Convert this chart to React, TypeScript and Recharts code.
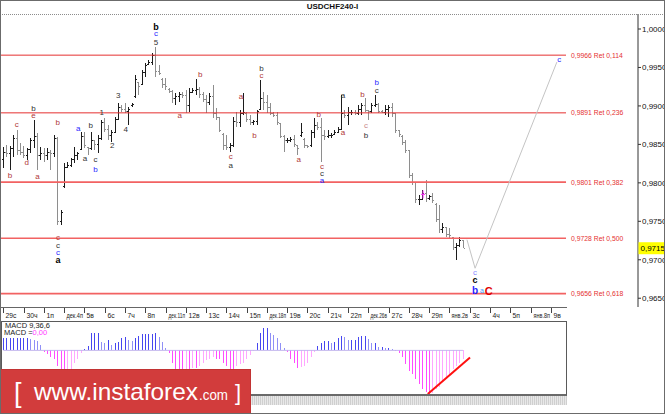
import { ComposedChart, Bar, Cell, XAxis, YAxis, ReferenceLine, ReferenceDot } from 'recharts'

const FONT = '"Liberation Sans", Arial, sans-serif'

// 4h bars, oldest first (6 bars per trading day)
const barHigh = [
  0.9847, 0.9849, 0.9848, 0.9862, 0.9869, 0.9852, 0.9848, 0.9845, 0.9858, 0.9882,
  0.9865, 0.9847, 0.9845, 0.9845, 0.9843, 0.9862, 0.986, 0.9765, 0.9826, 0.9827,
  0.9832, 0.9847, 0.984, 0.9866, 0.9866, 0.9847, 0.9866, 0.9856, 0.9862, 0.9882,
  0.9884, 0.9875, 0.9869, 0.9886, 0.9904, 0.9901, 0.9904, 0.9899, 0.9904, 0.994,
  0.9931, 0.9947, 0.9956, 0.996, 0.9969, 0.9977, 0.9953, 0.9936, 0.9936, 0.9923,
  0.9921, 0.9917, 0.9918, 0.9918, 0.9921, 0.9923, 0.9923, 0.9935, 0.9925, 0.9918,
  0.9914, 0.9917, 0.9927, 0.9897, 0.9886, 0.9865, 0.9862, 0.9852, 0.9886, 0.9892,
  0.9895, 0.9917, 0.9892, 0.9888, 0.9882, 0.9895, 0.9934, 0.9918, 0.9914, 0.9904,
  0.9892, 0.9892, 0.9878, 0.9862, 0.9858, 0.986, 0.9862, 0.9849, 0.9878, 0.9858,
  0.9849, 0.9869, 0.9884, 0.9879, 0.9884, 0.9869, 0.9869, 0.9865, 0.9869, 0.9873,
  0.9914, 0.9895, 0.9899, 0.9895, 0.9895, 0.9901, 0.9904, 0.991, 0.9895, 0.9904,
  0.9914, 0.9904, 0.9895, 0.9901, 0.9901, 0.9904, 0.9891, 0.9869, 0.9862, 0.9856,
  0.9843, 0.9813, 0.98, 0.9784, 0.9791, 0.9804, 0.9784, 0.9787, 0.9774, 0.9771,
  0.9748, 0.9743, 0.9741, 0.973, 0.9722, 0.973, 0.9726,
]
const barLow = [
  0.9819, 0.9834, 0.9817, 0.9834, 0.9836, 0.9836, 0.9832, 0.983, 0.9839, 0.9845,
  0.9817, 0.983, 0.9827, 0.983, 0.9817, 0.9834, 0.9745, 0.9745, 0.9793, 0.9819,
  0.9821, 0.9826, 0.983, 0.9843, 0.9845, 0.9836, 0.9843, 0.9843, 0.9839, 0.9856,
  0.9866, 0.9856, 0.9853, 0.9865, 0.9882, 0.9892, 0.9891, 0.9875, 0.9899, 0.991,
  0.9914, 0.9927, 0.9938, 0.9953, 0.9953, 0.9938, 0.994, 0.9923, 0.9921, 0.9917,
  0.9904, 0.9901, 0.9905, 0.991, 0.9891, 0.9892, 0.9917, 0.9914, 0.991, 0.9905,
  0.9891, 0.9901, 0.9884, 0.9882, 0.9866, 0.9843, 0.9843, 0.984, 0.9847, 0.9873,
  0.9873, 0.9888, 0.9879, 0.9875, 0.9875, 0.9875, 0.9895, 0.9895, 0.9891, 0.9888,
  0.9886, 0.9875, 0.9858, 0.984, 0.9852, 0.9853, 0.9847, 0.9836, 0.986, 0.9845,
  0.9845, 0.9847, 0.9858, 0.9869, 0.9827, 0.9856, 0.9858, 0.9858, 0.9862, 0.9865,
  0.9869, 0.9884, 0.9875, 0.9888, 0.9888, 0.9888, 0.9888, 0.9892, 0.9882, 0.9891,
  0.9899, 0.9891, 0.9891, 0.9888, 0.9886, 0.9886, 0.9865, 0.986, 0.9849, 0.9839,
  0.9806, 0.9797, 0.9774, 0.9771, 0.9778, 0.9775, 0.9778, 0.9774, 0.9749, 0.9735,
  0.9735, 0.973, 0.9728, 0.9713, 0.97, 0.9717, 0.9715,
]
const barOpen = [
  0.983, 0.984, 0.9838, 0.9845, 0.9858, 0.9842, 0.984, 0.9836, 0.9843, 0.9855,
  0.986, 0.9835, 0.9838, 0.9835, 0.984, 0.9838, 0.9858, 0.975, 0.9795, 0.982,
  0.9823, 0.983, 0.9835, 0.9844, 0.986, 0.9846, 0.9845, 0.9855, 0.985, 0.9858,
  0.9878, 0.987, 0.9862, 0.9866, 0.9882, 0.9898, 0.9895, 0.9893, 0.99, 0.9912,
  0.993, 0.9928, 0.9943, 0.9954, 0.9957, 0.9965, 0.9945, 0.9935, 0.9928, 0.9922,
  0.9919, 0.991, 0.9912, 0.9915, 0.9914, 0.99, 0.9918, 0.992, 0.9922, 0.9915,
  0.9908, 0.9905, 0.9912, 0.989, 0.9885, 0.9863, 0.9848, 0.9846, 0.9849, 0.988,
  0.9878, 0.989, 0.989, 0.9882, 0.9878, 0.988, 0.9896, 0.991, 0.9905, 0.9898,
  0.989, 0.9888, 0.9877, 0.986, 0.9855, 0.9855, 0.9856, 0.9848, 0.9862, 0.9856,
  0.9848, 0.9848, 0.9865, 0.9875, 0.9872, 0.9862, 0.986, 0.9862, 0.9863, 0.9866,
  0.987, 0.989, 0.9888, 0.9892, 0.9892, 0.989, 0.9896, 0.99, 0.9894, 0.9893,
  0.99, 0.9902, 0.9893, 0.9892, 0.9895, 0.9898, 0.989, 0.9868, 0.986, 0.9852,
  0.9842, 0.981, 0.98, 0.9778, 0.9779, 0.9786, 0.978, 0.9782, 0.9772, 0.9752,
  0.974, 0.9742, 0.9733, 0.9729, 0.9716, 0.9718, 0.9725,
]
const barClose = [
  0.984, 0.9838, 0.9845, 0.9858, 0.9842, 0.984, 0.9836, 0.9843, 0.9855, 0.986,
  0.9835, 0.9838, 0.9835, 0.984, 0.9838, 0.9858, 0.975, 0.9762, 0.982, 0.9823,
  0.983, 0.9835, 0.9838, 0.986, 0.9848, 0.9845, 0.9855, 0.985, 0.9858, 0.9878,
  0.987, 0.9862, 0.9866, 0.9882, 0.9898, 0.9895, 0.9893, 0.9895, 0.9902, 0.9935,
  0.9925, 0.9943, 0.9952, 0.9957, 0.9965, 0.9945, 0.9942, 0.9928, 0.9925, 0.9919,
  0.991, 0.9912, 0.9915, 0.9914, 0.99, 0.9918, 0.992, 0.9922, 0.9915, 0.9908,
  0.9905, 0.9912, 0.989, 0.9885, 0.9868, 0.9848, 0.9846, 0.9849, 0.988, 0.9878,
  0.989, 0.9892, 0.9882, 0.9878, 0.988, 0.9893, 0.991, 0.9905, 0.9898, 0.989,
  0.9888, 0.9878, 0.986, 0.9855, 0.9855, 0.9856, 0.985, 0.9845, 0.9865, 0.9848,
  0.9847, 0.9865, 0.9875, 0.9872, 0.9862, 0.986, 0.9862, 0.9862, 0.9866, 0.987,
  0.989, 0.9888, 0.9892, 0.9892, 0.989, 0.9896, 0.99, 0.9894, 0.9893, 0.99,
  0.9902, 0.9893, 0.9892, 0.9895, 0.9898, 0.989, 0.9868, 0.9863, 0.9852, 0.9842,
  0.981, 0.98, 0.9778, 0.9778, 0.9786, 0.978, 0.9782, 0.9777, 0.9752, 0.974,
  0.9742, 0.9733, 0.9731, 0.9716, 0.9718, 0.9725, 0.9715,
]
const macdHist = [
  12, 12, 12, 12, 12, 12, 12, 12, 11, 10,
  9, 5, -2, -4, -7, -8, -15, -22, -23, -22,
  -18, -12, -8, -3, 1, 4, 17, 17, 17, 8,
  7, 10, 5, 7, 8, 12, 13, 10, 9, 12,
  14, 16, 16, 16, 16, 17, 13, 8, 2, -3,
  -12, -20, -22, -22, -20, -20, -17, -17, -15, -12,
  -9, -8, -7, -8, -8, -12, -15, -18, -18, -15,
  -13, -12, -8, -5, -1, 7, 17, 22, 22, 17,
  15, 12, 7, 2, -2, -8, -12, -17, -16, -15,
  -12, -7, -2, 4, 7, 9, 9, 7, 8, 12,
  14, 13, 10, 10, 10, 13, 14, 14, 11, 7,
  7, 3, 3, 2, 2, 1, -1, -3, -7, -13,
  -20, -23, -28, -33, -38, -41, -43, -42, -38, -36,
  -31, -28, -23, -18, -15, -12, -8,
]

const BARS_PER_DAY = 6
const dateLabels = [
  '29с', '30ч', '1п', 'дек.4п', '5в', '6с', '7ч', '8п', 'дек.11п', '12в', '13с', '14ч', '15п', 'дек.18п',
  '19в', '20с', '21ч', '22п', 'дек.26в', '27с', '28ч', '29п', 'янв.2в', '3с', '4ч', '5п', 'янв.8п', '9в',
]
const priceTicks = [0.965, 0.97, 0.975, 0.98, 0.985, 0.99, 0.995, 1.0]
const lastPrice = 0.9715

const fibLevels = [0.9966, 0.9891, 0.9801, 0.9728, 0.9656]
const fibRatios = ['0,114', '0,236', '0,382', '0,500', '0,618']

// forecast path (bar index, price)
const projAt = [137.2, 139.6, 163.8]
const projPrice = [0.9726, 0.9689, 0.9957]

// trend line drawn on the MACD window
const macdTrendAt = [125.6, 138.1]
const macdTrendVal = [-43, -7]

// wave marks: bar index, price, text, degree
const waveAt = [
  45.2, 45.2, 45.2, 8.9, 8.9, 4.0, 16.1, 22.2, 25.9, 29.1, 34.0, 32.2, 36.2, 24.2, 27.3, 27.3, 2.0, 6.9, 10.1,
  16.2, 16.2, 16.2, 16.2, 52.2, 58.3, 67.3, 67.3, 70.3, 74.3, 76.4, 76.4, 87.4, 93.3, 94.3, 94.3, 94.3,
  100.5, 100.5, 106.3, 107.3, 107.3, 110.5, 110.5, 139.6, 139.6, 139.6, 141.6, 143.6, 164.5,
]
const wavePrice = [
  1.0003, 0.9994, 0.9983, 0.9897, 0.9887, 0.9876, 0.9878, 0.9871, 0.9874, 0.9892, 0.9914, 0.9849, 0.987,
  0.9832, 0.983, 0.9817, 0.981, 0.9826, 0.9808, 0.9729, 0.9719, 0.9709, 0.97, 0.9887, 0.9941, 0.9834, 0.9823,
  0.9912, 0.9861, 0.9949, 0.9939, 0.983, 0.9889, 0.9821, 0.9812, 0.9803, 0.9913, 0.9866, 0.9915, 0.9874,
  0.9861, 0.993, 0.992, 0.9683, 0.9674, 0.966, 0.966, 0.966, 0.996,
]
const waveText = [
  'b', 'c', '5', 'b', 'e', 'c', 'b', 'a', 'b', '1', '3', '2', '4', 'a', 'c', 'b', 'b', 'd', 'a',
  'c', 'c', 'c', 'a', 'a', 'b', 'c', 'a', 'a', 'b', 'b', 'c', 'a', 'b', 'c', 'c', 'a',
  'a', 'a', 'b', 'c', 'b', 'b', 'c', 'c', 'c', 'b', 'a', 'C', 'c',
]
const waveKind = [
  'k', 'u', 'd', 'd', 'r', 'r', 'r', 'u', 'd', 'd', 'd', 'd', 'd', 'd', 'd', 'u', 'r', 'r', 'r',
  'r', 'd', 'u', 'k', 'r', 'r', 'r', 'd', 'r', 'r', 'd', 'r', 'r', 'r', 'r', 'd', 'u',
  'd', 'r', 'r', 'p', 'd', 'u', 'd', 'l', 'k', 'B', 's', 'R', 'u',
]

const WAVE_STYLE: Record<string, { fill: string; size: number; weight: number }> = {
  k: { fill: '#000000', size: 9, weight: 700 },
  d: { fill: '#333333', size: 8, weight: 400 },
  r: { fill: '#b03838', size: 8, weight: 400 },
  u: { fill: '#2a2aff', size: 8, weight: 400 },
  p: { fill: '#c98a8a', size: 8, weight: 400 },
  l: { fill: '#8a8aff', size: 8, weight: 400 },
  B: { fill: '#1f1fff', size: 10, weight: 700 },
  s: { fill: '#3aa0ff', size: 7, weight: 400 },
  R: { fill: '#e00000', size: 11, weight: 700 },
}

const rows = barHigh.map((high, i) => ({
  i,
  high,
  low: barLow[i],
  open: barOpen[i],
  close: barClose[i],
  range: [barLow[i], high],
  macd: macdHist[i],
}))
const dayTicks = dateLabels.map((_, k) => k * BARS_PER_DAY)

const fmt = (v: number, d = 4) => v.toFixed(d).replace('.', ',')

const histColor = (v: number, prev: number) =>
  v >= 0 ? (v >= prev ? '#4646f0' : '#9090f6') : v <= prev ? '#ff4cff' : '#ffa6ff'

function OhlcBar(props: any) {
  const { x, y, width, height, payload } = props
  if (x == null || payload == null) return null
  const top = Math.min(y, y + height)
  const h = Math.abs(height)
  const span = payload.high - payload.low || 1
  const yo = top + ((payload.high - payload.open) / span) * h
  const yc = top + ((payload.high - payload.close) / span) * h
  const cx = Math.round(x + width / 2) + 0.5
  const up = payload.close >= payload.open
  return (
    <g stroke={up ? '#1c1c1c' : '#8e8e8e'} strokeWidth={1} shapeRendering="crispEdges">
      <line x1={cx} x2={cx} y1={top} y2={top + Math.max(h, 1)} />
      <line x1={cx - 1.5} x2={cx} y1={yo} y2={yo} />
      <line x1={cx} x2={cx + 1.5} y1={yc} y2={yc} />
    </g>
  )
}

function HistBar(props: any) {
  const { x, y, width, height, fill } = props
  if (x == null) return null
  const c = Math.round(x + width / 2) + 0.5
  const top = Math.min(y, y + height)
  const bot = Math.max(y, y + height)
  return <line x1={c} x2={c} y1={top} y2={bot} stroke={fill} strokeWidth={1} shapeRendering="crispEdges" />
}

function DateTick(props: any) {
  const { x, y, payload } = props
  const label = dateLabels[Math.round(payload.value / BARS_PER_DAY)]
  const tx = Math.round(x) + 0.5
  // long labels are squeezed into the day cell so they do not run over the next one
  const squeeze = label.length > 4 ? { textLength: 16.5, lengthAdjust: 'spacingAndGlyphs' } : {}
  return (
    <g>
      <line x1={tx} x2={tx} y1={y + 1} y2={y + 6} stroke="#444" />
      <text x={tx + 2} y={y + 11} fontSize={6.8} fill="#222" fontFamily={FONT} {...(squeeze as any)}>
        {label}
      </text>
    </g>
  )
}

function PriceTick(props: any) {
  const { x, y, payload } = props
  return (
    <text x={x - 1} y={y + 3} fontSize={8} fill="#111" fontFamily={FONT}>
      {fmt(payload.value)}
    </text>
  )
}

export default function App() {
  return (
    <div
      style={{
        position: 'absolute',
        left: 0,
        top: 0,
        width: 665,
        height: 414,
        background: '#fff',
        overflow: 'hidden',
        fontFamily: FONT,
      }}
    >
      <div style={{ position: 'absolute', top: 0, left: 0 }}>
        <ComposedChart width={665} height={322} data={rows} margin={{ top: 14, right: 0, bottom: 0, left: 1 }}>
          <XAxis
            dataKey="i"
            type="number"
            domain={[-0.68, 187.8]}
            ticks={dayTicks}
            interval={0}
            height={15}
            axisLine={false}
            tickLine={false}
            tickSize={0}
            tickMargin={0}
            tick={(p: any) => <DateTick {...p} />}
            allowDataOverflow
          />
          <YAxis
            orientation="right"
            width={27}
            domain={[0.96386, 1.00195]}
            ticks={priceTicks}
            allowDataOverflow
            tickSize={3}
            tickLine={{ stroke: '#333' }}
            axisLine={{ stroke: '#333' }}
            tick={(p: any) => <PriceTick {...p} />}
          />
          {fibLevels.map((lv, k) => (
            <ReferenceLine
              key={'f' + k}
              segment={[
                { x: -0.68, y: lv },
                { x: 166.5, y: lv },
              ]}
              stroke={k < 2 ? '#e53030' : '#f26262'}
              strokeWidth={k < 2 ? 1 : 1.6}
            />
          ))}
          {fibLevels.map((lv, k) => (
            <ReferenceDot
              key={'fl' + k}
              x={168}
              y={lv}
              r={0}
              ifOverflow="visible"
              shape={(p: any) => (
                <text x={p.cx} y={p.cy} dominantBaseline="central" fontSize={6.8} fill="#e53030" fontFamily={FONT}>
                  {`${fmt(lv)} Ret ${fibRatios[k]}`}
                </text>
              )}
            />
          ))}
          {projAt.slice(1).map((a, k) => (
            <ReferenceLine
              key={'p' + k}
              segment={[
                { x: projAt[k], y: projPrice[k] },
                { x: a, y: projPrice[k + 1] },
              ]}
              stroke="#c4c4c4"
              strokeWidth={1}
            />
          ))}
          <Bar dataKey="range" barSize={3} shape={(p: any) => <OhlcBar {...p} />} isAnimationActive={false} />
          <ReferenceDot
            x={124.2}
            y={0.9785}
            r={0}
            ifOverflow="visible"
            shape={(p: any) => (
              <g stroke="#ff30ff" strokeWidth={1}>
                <line x1={p.cx} x2={p.cx} y1={p.cy - 4} y2={p.cy + 4} />
                <line x1={p.cx - 2} x2={p.cx + 2} y1={p.cy} y2={p.cy} />
              </g>
            )}
          />
          {waveAt.map((a, k) => {
            const st = WAVE_STYLE[waveKind[k]]
            return (
              <ReferenceDot
                key={'w' + k}
                x={a}
                y={wavePrice[k]}
                r={0}
                ifOverflow="visible"
                shape={(p: any) => (
                  <text
                    x={p.cx}
                    y={p.cy}
                    textAnchor="middle"
                    dominantBaseline="central"
                    fontSize={st.size}
                    fontWeight={st.weight}
                    fill={st.fill}
                    fontFamily={FONT}
                  >
                    {waveText[k]}
                  </text>
                )}
              />
            )
          })}
          <ReferenceDot
            x={187.8}
            y={lastPrice}
            r={0}
            ifOverflow="visible"
            shape={(p: any) => (
              <g>
                <rect x={p.cx + 0.5} y={p.cy - 6} width={26} height={12} fill="#ffff00" />
                <text x={p.cx + 2.5} y={p.cy + 3} fontSize={8} fill="#000" fontFamily={FONT}>
                  {fmt(lastPrice)}
                </text>
              </g>
            )}
          />
        </ComposedChart>
      </div>

      {/* MACD window */}
      <div style={{ position: 'absolute', top: 321, left: 0 }}>
        <ComposedChart width={567} height={75} data={rows} margin={{ top: 1, right: 1, bottom: 1, left: 1 }}>
          <XAxis dataKey="i" type="number" domain={[-0.68, 166.5]} hide allowDataOverflow />
          <YAxis domain={[-44, 28]} hide allowDataOverflow />
          <ReferenceLine
            segment={[
              { x: 0, y: 0 },
              { x: 136, y: 0 },
            ]}
            stroke="#c4b8ee"
          />
          <Bar dataKey="macd" barSize={1} shape={(p: any) => <HistBar {...p} />} isAnimationActive={false}>
            {rows.map((r, k) => (
              <Cell key={k} fill={histColor(r.macd, k > 0 ? macdHist[k - 1] : r.macd)} />
            ))}
          </Bar>
          <ReferenceLine
            segment={[
              { x: macdTrendAt[0], y: macdTrendVal[0] },
              { x: macdTrendAt[1], y: macdTrendVal[1] },
            ]}
            stroke="#ff1010"
            strokeWidth={2}
          />
        </ComposedChart>
      </div>

      {/* frames and titles */}
      <div
        style={{
          position: 'absolute',
          top: 0,
          left: 0,
          width: 665,
          textAlign: 'center',
          fontSize: 8,
          fontWeight: 700,
          lineHeight: '13px',
          color: '#111',
        }}
      >
        USDCHF240-I
      </div>
      <div style={{ position: 'absolute', top: 14, left: 0, width: 665, borderTop: '1px dotted #8c8c8c' }} />
      <div style={{ position: 'absolute', top: 307, left: 0, width: 567, height: 1, background: '#666' }} />
      <div
        style={{
          position: 'absolute',
          top: 321,
          left: 1,
          width: 566,
          height: 75,
          boxSizing: 'border-box',
          border: '1px solid #5a5a5a',
          borderBottom: '2px solid #6a6a6a',
        }}
      />
      <div
        style={{
          position: 'absolute',
          top: 396,
          left: 0,
          width: 567,
          height: 9,
          background: 'repeating-linear-gradient(90deg, #cfcfcf 0 1px, #e8e8e8 1px 2px)',
        }}
      />
      <div style={{ position: 'absolute', top: 322, left: 5, fontSize: 7.5, lineHeight: '8px', color: '#222' }}>
        MACD 9,36,6
      </div>
      <div style={{ position: 'absolute', top: 329, left: 4, fontSize: 7.5, lineHeight: '8px', color: '#222' }}>
        MACD =<span style={{ color: '#ff40ff' }}>0,00</span>
      </div>

      {/* watermark */}
      <svg style={{ position: 'absolute', left: 0, top: 369 }} width={251} height={45}>
        <rect x={0} y={0} width={251} height={45} fill="#d23c3c" stroke="#b22a2a" />
        <text x={14} y={33} fontSize={27} fill="#fff" fontFamily={FONT} fontWeight={300}>
          [
        </text>
        <text x={34} y={31} fontSize={24} fill="#fff" fontFamily={FONT} textLength={164} lengthAdjust="spacingAndGlyphs">
          www.instaforex
        </text>
        <text x={199} y={31} fontSize={15} fill="#fff" fontFamily={FONT} textLength={29} lengthAdjust="spacingAndGlyphs">
          .com
        </text>
        <text x={235} y={31} fontSize={22} fill="#fff" fontFamily={FONT}>
          ]
        </text>
      </svg>

      <div
        style={{
          position: 'absolute',
          inset: 0,
          boxSizing: 'border-box',
          border: '1px solid #6b6b6b',
          pointerEvents: 'none',
        }}
      />
    </div>
  )
}
